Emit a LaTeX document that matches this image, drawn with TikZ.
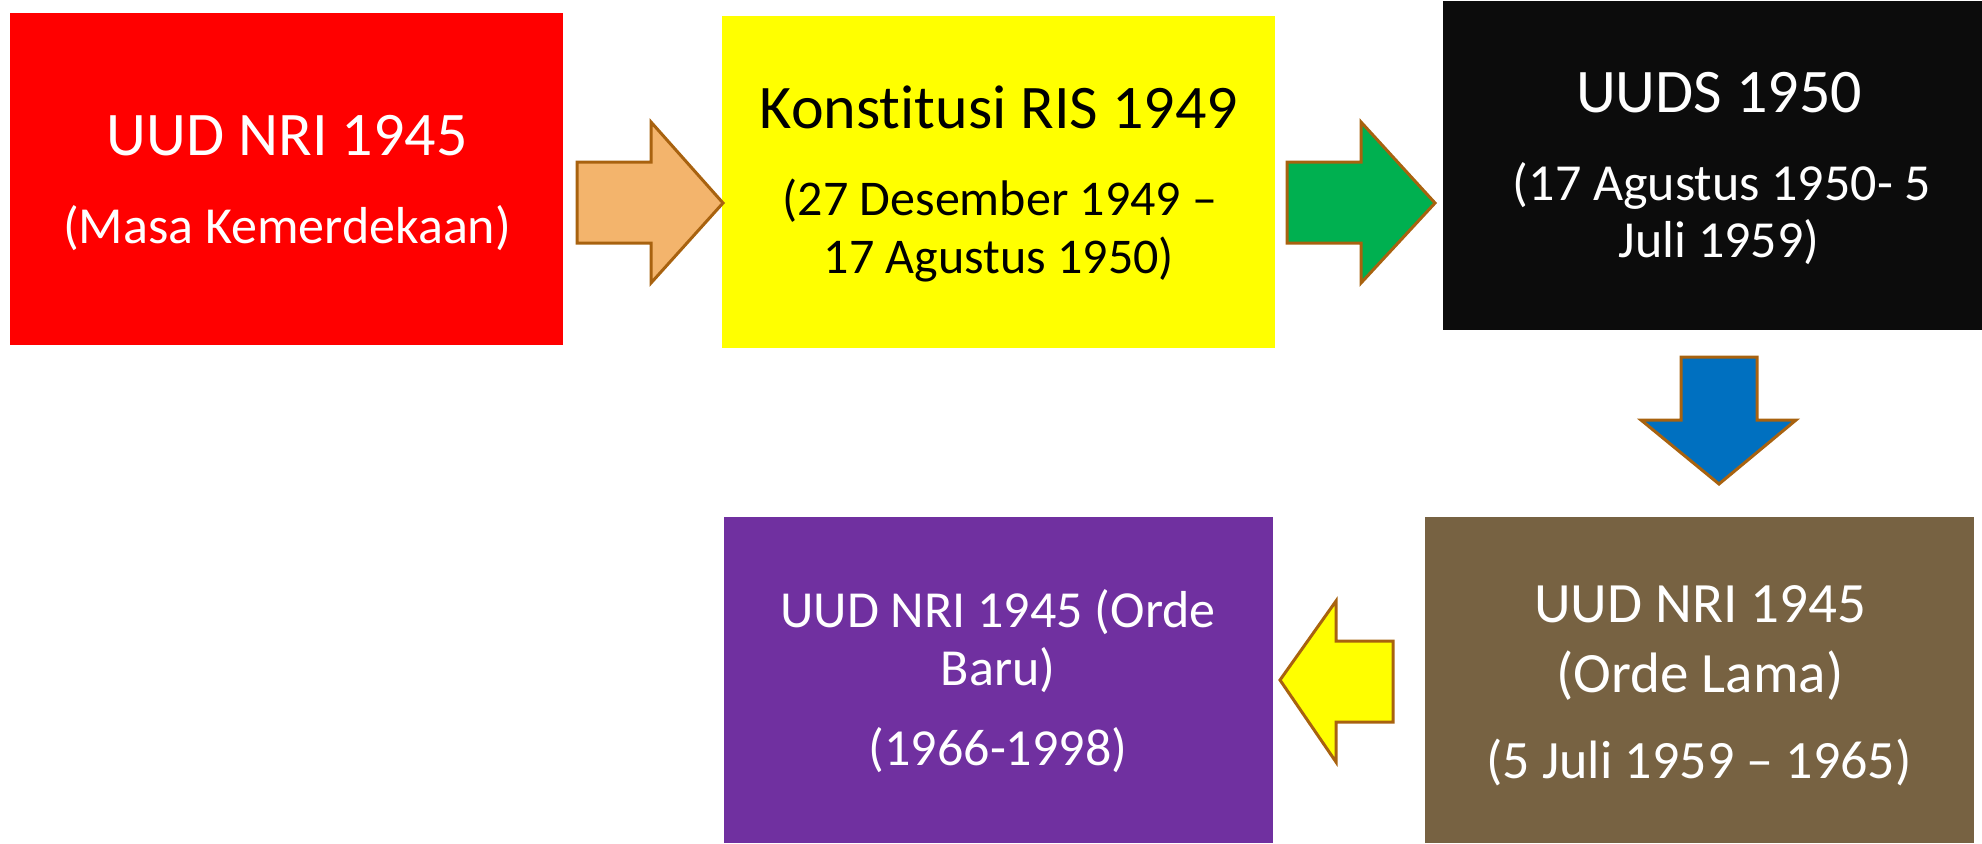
\documentclass[tikz,border=0pt]{standalone}
\usepackage{fontspec}
\setmainfont[RawFeature={-liga;-clig;-dlig}]{Carlito}
\definecolor{cRed}{HTML}{FF0000}
\definecolor{cYel}{HTML}{FFFF00}
\definecolor{cBlk}{HTML}{0C0C0C}
\definecolor{cBrn}{HTML}{776242}
\definecolor{cPur}{HTML}{7030A0}
\definecolor{cOra}{HTML}{F3B46C}
\definecolor{cGrn}{HTML}{00B050}
\definecolor{cBlu}{HTML}{0070C0}
\definecolor{cOut}{HTML}{A8620F}
\tikzset{
  box/.style={fill=#1, draw=none},
  blockarrow/.style={fill=#1, draw=cOut, line width=1.5pt, line join=miter},
  txt/.style={inner sep=0pt, anchor=base, text=#1},
}
\newcommand{\fsz}[1]{\fontsize{#1}{#1}\selectfont}
\begin{document}
\begin{tikzpicture}[x=0.5pt, y=-0.5pt]
\useasboundingbox (0,0) rectangle (1982,843);
\clip (0,0) rectangle (1982,843);
% boxes
\fill[box=cRed] (10,13) rectangle (563,345);
\fill[box=cYel] (722,16) rectangle (1275,348);
\fill[box=cBlk] (1443,1) rectangle (1996,330);
\fill[box=cBrn] (1425,517) rectangle (1974,843);
\fill[box=cPur] (724,517) rectangle (1273,843);
% block arrows
\draw[blockarrow=cOra] (577,162) -- (651,162) -- (651,122) -- (723,203) -- (651,283) -- (651,243) -- (577,243) -- cycle;
\draw[blockarrow=cGrn] (1287,162) -- (1361,162) -- (1361,122) -- (1435,203) -- (1361,283) -- (1361,243) -- (1287,243) -- cycle;
\draw[blockarrow=cBlu] (1681,357) -- (1757,357) -- (1757,420) -- (1796,420) -- (1719,484) -- (1641,420) -- (1681,420) -- cycle;
\draw[blockarrow=cYel] (1393,641) -- (1336,641) -- (1336,601) -- (1280,680) -- (1336,762) -- (1336,722) -- (1393,722) -- cycle;
% texts
\node[txt=white] (r1) at (287,155) {\fsz{31}UUD NRI 1945};
\node[txt=white] (r2) at (287,243) {\fsz{26}(Masa Kemerdekaan)};
\node[txt=black] (y1) at (999,128) {\fsz{31}Konst\kern0pt i\kern0pt tus\kern0pt i RIS 1949};
\node[txt=black] (y2) at (1000,215) {\fsz{25}(27 Desember 1949 –};
\node[txt=black] (y3) at (999,273) {\fsz{25}17 Agustus 1950)};
\node[txt=white] (b1) at (1719,112) {\fsz{31}UUDS 1950};
\node[txt=white] (b2) at (1722,200) {\fsz{26}(17 Agustus 1950- 5};
\node[txt=white] (b3) at (1719,257) {\fsz{26}Juli 1959)};
\node[txt=white] (n1) at (1700,622) {\fsz{28.5}UUD NRI 1945};
\node[txt=white] (n2) at (1700,692) {\fsz{28.5}(Orde Lama)};
\node[txt=white] (n3) at (1699,778) {\fsz{27}(5 Juli 1959 – 1965)};
\node[txt=white] (p1) at (998,627) {\fsz{26}UUD NRI 1945 (Orde};
\node[txt=white] (p2) at (998,685) {\fsz{26}Baru)};
\node[txt=white] (p3) at (998,765) {\fsz{26}(1966-1998)};
\end{tikzpicture}
\end{document}
